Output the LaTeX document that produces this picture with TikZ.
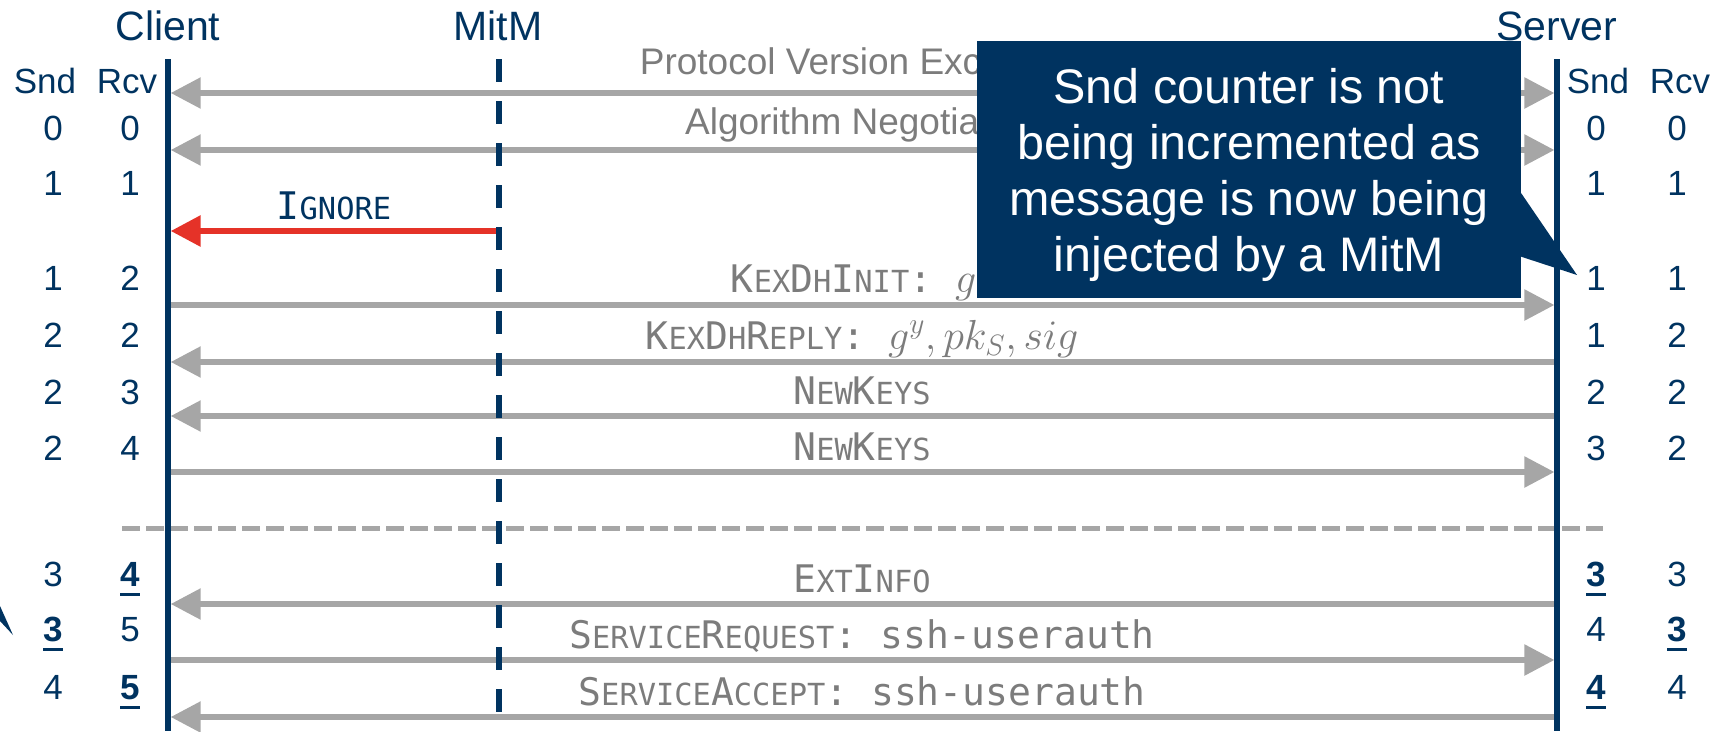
\documentclass[tikz,border=0pt]{standalone}
\usepackage{fix-cm}
\usepackage{fontspec}
\setmainfont{Liberation Sans}
\newfontfamily\monofont{DejaVu Sans Mono}
\usetikzlibrary{arrows.meta}
\definecolor{navy}{RGB}{0,51,96}
\definecolor{arrgray}{RGB}{166,166,166}
\definecolor{lblgray}{RGB}{124,124,124}
\definecolor{redarr}{RGB}{229,50,40}
\newcommand\SC[2]{#1{\fontsize{30.4}{30.4}\selectfont #2}}
\newcommand\MZ{\fontsize{42}{42}\selectfont}
\newcommand\ub[1]{\setbox0=\hbox{\bfseries #1}\rlap{\rule[-10pt]{\wd0}{3pt}}\box0}
\begin{document}
\begin{tikzpicture}[x=1pt,y=-1pt,
  hdr/.style={font=\fontsize{41}{41}\selectfont, text=navy, anchor=base, inner sep=0pt},
  cnt/.style={font=\fontsize{35}{35}\selectfont, text=navy, anchor=base, inner sep=0pt},
  lbl/.style={font=\fontsize{37}{37}\selectfont, text=lblgray, anchor=base, inner sep=0pt},
  mlbl/.style={font=\monofont\fontsize{38}{38}\selectfont, text=lblgray, anchor=base, inner sep=0pt},
  msg/.style={draw=arrgray, line width=5.5pt},
  msgR/.style={msg, -{Triangle[length=30pt,width=30pt]}},
  msgL/.style={msg, {Triangle[length=30pt,width=30pt]}-},
  msgLR/.style={msg, {Triangle[length=30pt,width=30pt]}-{Triangle[length=30pt,width=30pt]}},
  inj/.style={draw=redarr, line width=6pt, -{Triangle[length=30pt,width=30pt]}},
  life/.style={draw=navy, line width=5.3pt},
  mitmline/.style={life, dash pattern=on 23pt off 19pt},
  sepline/.style={draw=arrgray, line width=5pt, dash pattern=on 18pt off 6pt},
  callout/.style={fill=navy, inner sep=0pt, minimum width=544pt, minimum height=257pt},
  callouttext/.style={text=white, align=center, inner sep=0pt, font=\fontsize{48.5}{56}\selectfont}
]
\useasboundingbox (0,0) rectangle (1723,731);

% lifeline end points
\coordinate (cT) at (168,59);  \coordinate (cB) at (168,731);
\coordinate (mT) at (499,59);  \coordinate (mB) at (499,731);
\coordinate (sT) at (1557,59); \coordinate (sB) at (1557,731);

% separator
\coordinate (sepL) at (122,528); \coordinate (sepR) at (1603,528);
\draw[sepline] (sepL) -- (sepR);

% message end points (client edge / server edge)
\foreach \n/\y in {1/93,2/150,3/305,4/362,5/416,6/472,7/604,8/660,9/717}{
  \coordinate (c\n) at (170.7,\y);
  \coordinate (s\n) at (1554.4,\y);
}
\coordinate (mI) at (499,231); \coordinate (cI) at (170.7,231);

\draw[msgLR] (c1) -- (s1);
\draw[msgLR] (c2) -- (s2);
\draw[inj] (mI) -- (cI);
\draw[msgR] (c3) -- (s3);
\draw[msgL] (c4) -- (s4);
\draw[msgL] (c5) -- (s5);
\draw[msgR] (c6) -- (s6);
\draw[msgL] (c7) -- (s7);
\draw[msgR] (c8) -- (s8);
\draw[msgL] (c9) -- (s9);

% lifelines
\draw[life] (cT) -- (cB);
\draw[mitmline] (mT) -- (mB);
\draw[life] (sT) -- (sB);

% headers
\node[hdr] (client) at (168,40) {Client};
\node[hdr] (mitm) at (498,40) {MitM};
\node[hdr] (server) at (1557,40) {Server};
\node[cnt] (csnd) at (45,93) {Snd};
\node[cnt] (crcv) at (127,93) {Rcv};
\node[cnt] (ssnd) at (1598,93) {Snd};
\node[cnt] (srcv) at (1680,93) {Rcv};

% counters
\foreach \y/\a/\b [count=\i] in {140/0/0,195/1/1,290/1/2,347/2/2,404/2/3,460/2/4,586/3/\ub{4},641/\ub{3}/5,699/4/\ub{5}}{
  \node[cnt] (cs\i) at (53,\y) {\a};
  \node[cnt] (cr\i) at (130,\y) {\b};
}
\foreach \y/\a/\b [count=\i] in {140/0/0,195/1/1,290/1/1,347/1/2,404/2/2,460/3/2,586/\ub{3}/3,641/4/\ub{3},699/\ub{4}/4}{
  \node[cnt] (ss\i) at (1596,\y) {\a};
  \node[cnt] (sr\i) at (1677,\y) {\b};
}

% message labels
\node[lbl] (l1) at (862,74) {Protocol Version Exchange};
\node[lbl] (l2) at (862,134) {Algorithm Negotiation};
\node[mlbl, text=navy] (l3) at (334,219) {\SC{I}{GNORE}};
\node[mlbl] (l4) at (862,292) {\SC{K}{EX}\SC{D}{H}\SC{I}{NIT}: {\MZ$g^x$}};
\node[mlbl] (l5) at (862,349) {\SC{K}{EX}\SC{D}{H}\SC{R}{EPLY}: {\MZ$g^y, pk_S, sig$}};
\node[mlbl] (l6) at (862,404) {\SC{N}{EW}\SC{K}{EYS}};
\node[mlbl] (l7) at (862,460) {\SC{N}{EW}\SC{K}{EYS}};
\node[mlbl] (l8) at (862,592) {\SC{E}{XT}\SC{I}{NFO}};
\node[mlbl] (l9) at (862,648) {\SC{S}{ERVICE}\SC{R}{EQUEST}: ssh-userauth};
\node[mlbl] (l10) at (862,705) {\SC{S}{ERVICE}\SC{A}{CCEPT}: ssh-userauth};

% callout
\node[callout] (note) at (1249,169.5) {};
\coordinate (ptip) at (1577,275);
\fill[navy] (1519,190) -- (ptip) -- (1519,256) -- cycle;
\node[callouttext] (notetext) at (1249,175) {Snd counter is not\\being incremented as\\message is now being\\injected by a MitM};

% pointer of a callout outside the picture
\coordinate (ltip) at (13,635);
\fill[navy] (0,606) -- (ltip) -- (0,621) -- cycle;
\end{tikzpicture}
\end{document}
